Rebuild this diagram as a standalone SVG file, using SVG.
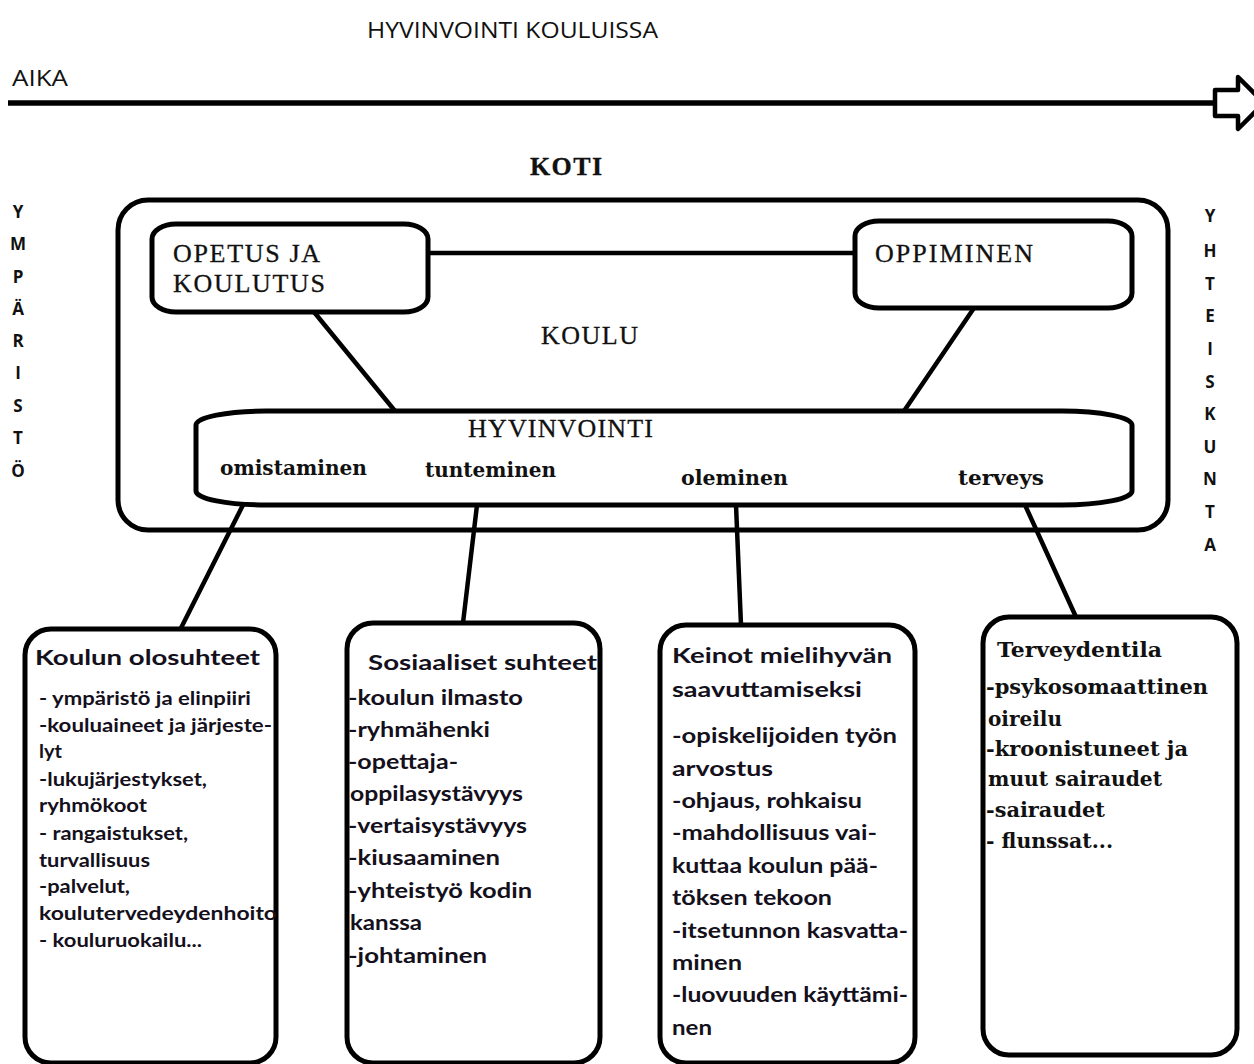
<svg xmlns="http://www.w3.org/2000/svg" width="1254" height="1064" viewBox="0 0 1254 1064">
<style>
.bg{fill:#fff}
.box{fill:#fff;stroke:#000;stroke-width:5}
.con{stroke:#000;stroke-width:4.5;fill:none;stroke-linecap:round}
.sans{font-family:"Open Sans","Liberation Sans",sans-serif;fill:#111}
.vert{font-family:"Open Sans","Liberation Sans",sans-serif;font-weight:700;font-size:17px;fill:#111;text-anchor:middle}
.cap{font-family:"Liberation Serif","Times New Roman",serif;font-size:26px;fill:#111;stroke:#111;stroke-width:0.3}
.sub{font-family:"DejaVu Serif","Liberation Serif",serif;font-weight:700;font-size:20px;fill:#111}
.ttl{font-family:Lato,"Liberation Sans",sans-serif;font-weight:700;font-size:21px;fill:#14101c}
.it1{font-family:Lato,"Liberation Sans",sans-serif;font-weight:700;font-size:18.5px;fill:#14101c}
.it2{font-family:Lato,"Liberation Sans",sans-serif;font-weight:700;font-size:21px;fill:#14101c}
.ser{font-family:"DejaVu Serif","Liberation Serif",serif;font-weight:700;font-size:20px;fill:#111}
</style>
<rect class="bg" x="0" y="0" width="1254" height="1064"/>

<g id="header">
<text class="sans" x="367" y="38" font-size="21" textLength="291" lengthAdjust="spacingAndGlyphs">HYVINVOINTI KOULUISSA</text>
<text class="sans" x="12" y="86" font-size="21" textLength="56" lengthAdjust="spacingAndGlyphs">AIKA</text>
</g>

<g id="time-arrow">
<line x1="8" y1="103" x2="1215" y2="103" stroke="#000" stroke-width="5.5"/>
<path d="M1215,90 L1238,90 L1238,77 L1264,103 L1238,129 L1238,116 L1215,116 Z" fill="#fff" stroke="#000" stroke-width="4.5" stroke-linejoin="round"/>
</g>

<g id="koti">
<text class="cap" x="530" y="175" font-weight="700" font-size="23" textLength="72">KOTI</text>
</g>

<g id="ymparisto">
<text class="vert" x="18" y="218">Y</text>
<text class="vert" x="18" y="250">M</text>
<text class="vert" x="18" y="283">P</text>
<text class="vert" x="18" y="315">Ä</text>
<text class="vert" x="18" y="347">R</text>
<text class="vert" x="18" y="379">I</text>
<text class="vert" x="18" y="412">S</text>
<text class="vert" x="18" y="444">T</text>
<text class="vert" x="18" y="477">Ö</text>
</g>

<g id="yhteiskunta">
<text class="vert" x="1210" y="222">Y</text>
<text class="vert" x="1210" y="257">H</text>
<text class="vert" x="1210" y="290">T</text>
<text class="vert" x="1210" y="322">E</text>
<text class="vert" x="1210" y="355">I</text>
<text class="vert" x="1210" y="388">S</text>
<text class="vert" x="1210" y="420">K</text>
<text class="vert" x="1210" y="453">U</text>
<text class="vert" x="1210" y="485">N</text>
<text class="vert" x="1210" y="518">T</text>
<text class="vert" x="1210" y="551">A</text>
</g>

<g id="koulu">
<rect class="box" x="118" y="200" width="1050" height="330" rx="30" ry="30"/>
<text class="cap" x="541" y="344" textLength="97">KOULU</text>
</g>

<g id="connectors">
<line class="con" x1="428" y1="253" x2="855" y2="253"/>
<line class="con" x1="314" y1="312" x2="395" y2="411"/>
<line class="con" x1="974" y1="308" x2="904" y2="411"/>
<line class="con" x1="243" y1="505" x2="180" y2="630"/>
<line class="con" x1="477" y1="505" x2="463" y2="623"/>
<line class="con" x1="736" y1="505" x2="741" y2="625"/>
<line class="con" x1="1025" y1="505" x2="1076" y2="617"/>
</g>

<g id="opetus">
<rect class="box" x="152" y="224" width="276" height="88" rx="24" ry="15"/>
<text class="cap" x="173" y="262" textLength="147">OPETUS JA</text>
<text class="cap" x="173" y="292" textLength="152">KOULUTUS</text>
</g>

<g id="oppiminen">
<rect class="box" x="855" y="221" width="277" height="87" rx="24" ry="15"/>
<text class="cap" x="875" y="262" textLength="158">OPPIMINEN</text>
</g>

<g id="hyvinvointi">
<rect class="box" x="196" y="411" width="936" height="94" rx="70" ry="14"/>
<text class="cap" x="468" y="437" font-size="24" textLength="185">HYVINVOINTI</text>
<text class="sub" x="220" y="475" textLength="147" lengthAdjust="spacingAndGlyphs">omistaminen</text>
<text class="sub" x="425" y="477" textLength="131" lengthAdjust="spacingAndGlyphs">tunteminen</text>
<text class="sub" x="681" y="485" textLength="107" lengthAdjust="spacingAndGlyphs">oleminen</text>
<text class="sub" x="958" y="485" textLength="86" lengthAdjust="spacingAndGlyphs">terveys</text>
</g>

<g id="olosuhteet">
<rect class="box" x="25" y="629" width="251" height="434" rx="26" ry="26"/>
<text class="ttl" x="35" y="665" textLength="225" lengthAdjust="spacingAndGlyphs">Koulun olosuhteet</text>
<text class="it1" x="39" y="705" textLength="212" lengthAdjust="spacingAndGlyphs">- ympäristö ja elinpiiri</text>
<text class="it1" x="39" y="732" textLength="233" lengthAdjust="spacingAndGlyphs">-kouluaineet ja järjeste-</text>
<text class="it1" x="39" y="758" textLength="23" lengthAdjust="spacingAndGlyphs">lyt</text>
<text class="it1" x="39" y="786" textLength="168" lengthAdjust="spacingAndGlyphs">-lukujärjestykset,</text>
<text class="it1" x="39" y="812" textLength="108" lengthAdjust="spacingAndGlyphs">ryhmökoot</text>
<text class="it1" x="39" y="840" textLength="149" lengthAdjust="spacingAndGlyphs">- rangaistukset,</text>
<text class="it1" x="39" y="867" textLength="111" lengthAdjust="spacingAndGlyphs">turvallisuus</text>
<text class="it1" x="39" y="893" textLength="91" lengthAdjust="spacingAndGlyphs">-palvelut,</text>
<text class="it1" x="39" y="920" textLength="238" lengthAdjust="spacingAndGlyphs">koulutervedeydenhoito</text>
<text class="it1" x="39" y="947" textLength="163" lengthAdjust="spacingAndGlyphs">- kouluruokailu...</text>
</g>

<g id="sosiaaliset">
<rect class="box" x="347" y="623" width="253" height="440" rx="26" ry="26"/>
<text class="ttl" x="368" y="670" textLength="229" lengthAdjust="spacingAndGlyphs">Sosiaaliset suhteet</text>
<text class="it2" x="348" y="705" textLength="175" lengthAdjust="spacingAndGlyphs">-koulun ilmasto</text>
<text class="it2" x="348" y="737" textLength="142" lengthAdjust="spacingAndGlyphs">-ryhmähenki</text>
<text class="it2" x="348" y="769" textLength="110" lengthAdjust="spacingAndGlyphs">-opettaja-</text>
<text class="it2" x="350" y="801" textLength="173" lengthAdjust="spacingAndGlyphs">oppilasystävyys</text>
<text class="it2" x="348" y="833" textLength="179" lengthAdjust="spacingAndGlyphs">-vertaisystävyys</text>
<text class="it2" x="348" y="865" textLength="152" lengthAdjust="spacingAndGlyphs">-kiusaaminen</text>
<text class="it2" x="348" y="898" textLength="184" lengthAdjust="spacingAndGlyphs">-yhteistyö kodin</text>
<text class="it2" x="350" y="930" textLength="72" lengthAdjust="spacingAndGlyphs">kanssa</text>
<text class="it2" x="348" y="963" textLength="139" lengthAdjust="spacingAndGlyphs">-johtaminen</text>
</g>

<g id="keinot">
<rect class="box" x="660" y="625" width="255" height="438" rx="26" ry="26"/>
<text class="ttl" x="672" y="663" textLength="220" lengthAdjust="spacingAndGlyphs">Keinot mielihyvän</text>
<text class="ttl" x="672" y="697" textLength="190" lengthAdjust="spacingAndGlyphs">saavuttamiseksi</text>
<text class="it2" x="672" y="743" textLength="225" lengthAdjust="spacingAndGlyphs">-opiskelijoiden työn</text>
<text class="it2" x="672" y="776" textLength="101" lengthAdjust="spacingAndGlyphs">arvostus</text>
<text class="it2" x="672" y="808" textLength="190" lengthAdjust="spacingAndGlyphs">-ohjaus, rohkaisu</text>
<text class="it2" x="672" y="840" textLength="205" lengthAdjust="spacingAndGlyphs">-mahdollisuus vai-</text>
<text class="it2" x="672" y="873" textLength="206" lengthAdjust="spacingAndGlyphs">kuttaa koulun pää-</text>
<text class="it2" x="672" y="905" textLength="160" lengthAdjust="spacingAndGlyphs">töksen tekoon</text>
<text class="it2" x="672" y="938" textLength="236" lengthAdjust="spacingAndGlyphs">-itsetunnon kasvatta-</text>
<text class="it2" x="672" y="970" textLength="70" lengthAdjust="spacingAndGlyphs">minen</text>
<text class="it2" x="672" y="1002" textLength="236" lengthAdjust="spacingAndGlyphs">-luovuuden käyttämi-</text>
<text class="it2" x="672" y="1035" textLength="40" lengthAdjust="spacingAndGlyphs">nen</text>
</g>

<g id="terveydentila">
<rect class="box" x="983" y="617" width="254" height="438" rx="26" ry="26"/>
<text class="ser" x="997" y="657" textLength="165" lengthAdjust="spacingAndGlyphs">Terveydentila</text>
<text class="ser" x="986" y="694" textLength="222" lengthAdjust="spacingAndGlyphs">-psykosomaattinen</text>
<text class="ser" x="988" y="726" textLength="74" lengthAdjust="spacingAndGlyphs">oireilu</text>
<text class="ser" x="986" y="756" textLength="202" lengthAdjust="spacingAndGlyphs">-kroonistuneet ja</text>
<text class="ser" x="988" y="786" textLength="174" lengthAdjust="spacingAndGlyphs">muut sairaudet</text>
<text class="ser" x="986" y="817" textLength="119" lengthAdjust="spacingAndGlyphs">-sairaudet</text>
<text class="ser" x="986" y="848" textLength="127" lengthAdjust="spacingAndGlyphs">- flunssat...</text>
</g>
</svg>
